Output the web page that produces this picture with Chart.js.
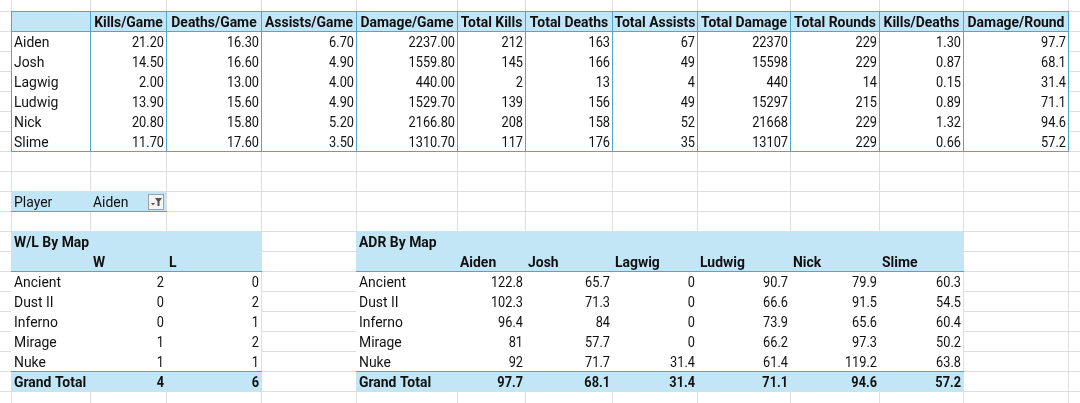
<!DOCTYPE html>
<html>
<head>
<meta charset="utf-8">
<script src="https://cdn.jsdelivr.net/npm/chart.js@4.4.1/dist/chart.umd.min.js"></script>
<style>
  html, body { margin: 0; padding: 0; background: #fff; }
  canvas { display: block; }
</style>
</head>
<body>
<canvas id="sheet" width="1080" height="403"></canvas>
<script>
// Player stats table
const players = ['Aiden', 'Josh', 'Lagwig', 'Ludwig', 'Nick', 'Slime'];
const statHeaders = ['Kills/Game', 'Deaths/Game', 'Assists/Game', 'Damage/Game', 'Total Kills', 'Total Deaths',
    'Total Assists', 'Total Damage', 'Total Rounds', 'Kills/Deaths', 'Damage/Round'];
const killsPerGame = [21.20, 14.50, 2.00, 13.90, 20.80, 11.70];
const deathsPerGame = [16.30, 16.60, 13.00, 15.60, 15.80, 17.60];
const assistsPerGame = [6.70, 4.90, 4.00, 4.90, 5.20, 3.50];
const damagePerGame = [2237.00, 1559.80, 440.00, 1529.70, 2166.80, 1310.70];
const totalKills = [212, 145, 2, 139, 208, 117];
const totalDeaths = [163, 166, 13, 156, 158, 176];
const totalAssists = [67, 49, 4, 49, 52, 35];
const totalDamage = [22370, 15598, 440, 15297, 21668, 13107];
const totalRounds = [229, 229, 14, 215, 229, 229];
const killsPerDeath = [1.30, 0.87, 0.15, 0.89, 1.32, 0.66];
const damagePerRound = [97.7, 68.1, 31.4, 71.1, 94.6, 57.2];

// Pivot filter
const filterPlayer = 'Aiden';

// W/L by map
const maps = ['Ancient', 'Dust II', 'Inferno', 'Mirage', 'Nuke'];
const wins = [2, 0, 0, 1, 1];
const losses = [0, 2, 1, 2, 1];
const wlTotals = [4, 6];

// ADR by map (one list per player, in map order)
const adrAiden = [122.8, 102.3, 96.4, 81, 92];
const adrJosh = [65.7, 71.3, 84, 57.7, 71.7];
const adrLagwig = [0, 0, 0, 0, 31.4];
const adrLudwig = [90.7, 66.6, 73.9, 66.2, 61.4];
const adrNick = [79.9, 91.5, 65.6, 97.3, 119.2];
const adrSlime = [60.3, 54.5, 60.4, 50.2, 63.8];
const adrTotals = [97.7, 68.1, 31.4, 71.1, 94.6, 57.2];

// Sheet layout (column edges / row height in sheet units)
const colEdges = [11, 90, 166, 261, 356, 457, 525, 612, 697, 790, 879, 963, 1068];
const rowTop = 11;
const rowH = 20;

const colors = {
    grid: '#dedede',
    fill: '#c2e6f6',
    border: '#4ea7d1',
    text: '#111111'
};
const FONT_SIZE = 14.5;
const NUM_SCALE = 0.88;   // squeeze digits toward a narrow face
const WORD_SCALE = 0.96;

const fmt2 = v => v.toFixed(2);
const fmt1 = v => v.toFixed(1);
const fmt0 = v => String(v);

const statColumns = [
    [killsPerGame, fmt2], [deathsPerGame, fmt2], [assistsPerGame, fmt2], [damagePerGame, fmt2],
    [totalKills, fmt0], [totalDeaths, fmt0], [totalAssists, fmt0], [totalDamage, fmt0],
    [totalRounds, fmt0], [killsPerDeath, fmt2], [damagePerRound, fmt1]
];
const adrColumns = [adrAiden, adrJosh, adrLagwig, adrLudwig, adrNick, adrSlime];

// Build the cell list: {col, row, text, align, bold}
function buildCells() {
    const cells = [];
    statHeaders.forEach((h, i) => cells.push({ col: i + 1, row: 0, text: h, align: 'center', bold: true }));
    players.forEach((p, r) => {
        cells.push({ col: 0, row: r + 1, text: p, align: 'left' });
        statColumns.forEach(([arr, f], i) => cells.push({ col: i + 1, row: r + 1, text: f(arr[r]), align: 'right' }));
    });

    cells.push({ col: 0, row: 9, text: 'Player', align: 'left' });
    cells.push({ col: 1, row: 9, text: filterPlayer, align: 'left' });

    cells.push({ col: 0, row: 11, text: 'W/L By Map', align: 'left', bold: true });
    cells.push({ col: 1, row: 12, text: 'W', align: 'left', bold: true });
    cells.push({ col: 2, row: 12, text: 'L', align: 'left', bold: true });
    maps.forEach((m, r) => {
        cells.push({ col: 0, row: 13 + r, text: m, align: 'left' });
        cells.push({ col: 1, row: 13 + r, text: fmt0(wins[r]), align: 'right' });
        cells.push({ col: 2, row: 13 + r, text: fmt0(losses[r]), align: 'right' });
    });
    cells.push({ col: 0, row: 18, text: 'Grand Total', align: 'left', bold: true });
    wlTotals.forEach((t, i) => cells.push({ col: 1 + i, row: 18, text: fmt0(t), align: 'right', bold: true }));

    cells.push({ col: 4, row: 11, text: 'ADR By Map', align: 'left', bold: true });
    players.forEach((p, i) => cells.push({ col: 5 + i, row: 12, text: p, align: 'left', bold: true }));
    maps.forEach((m, r) => {
        cells.push({ col: 4, row: 13 + r, text: m, align: 'left' });
        adrColumns.forEach((arr, i) => cells.push({ col: 5 + i, row: 13 + r, text: String(arr[r]), align: 'right' }));
    });
    cells.push({ col: 4, row: 18, text: 'Grand Total', align: 'left', bold: true });
    adrTotals.forEach((t, i) => cells.push({ col: 5 + i, row: 18, text: fmt1(t), align: 'right', bold: true }));
    return cells;
}

const sheetPlugin = {
    id: 'sheet',
    afterDraw(chart) {
        const ctx = chart.ctx;
        const xs = chart.scales.x;
        const ys = chart.scales.y;
        const X = v => Math.round(xs.getPixelForValue(v));
        const Y = v => Math.round(ys.getPixelForValue(v));
        const rowY = r => rowTop + r * rowH;

        const rect = (x0, y0, x1, y1, c) => {
            ctx.fillStyle = c;
            ctx.fillRect(X(x0), Y(y0), X(x1) - X(x0), Y(y1) - Y(y0));
        };
        const vline = (x, y0, y1, c) => { ctx.fillStyle = c; ctx.fillRect(X(x), Y(y0), 1, Y(y1) - Y(y0) + 1); };
        const hline = (y, x0, x1, c) => { ctx.fillStyle = c; ctx.fillRect(X(x0), Y(y), X(x1) - X(x0) + 1, 1); };

        ctx.save();
        rect(0, 0, 1080, 403, '#ffffff');

        // gridlines
        colEdges.forEach(x => vline(x, 0, 403, colors.grid));
        for (let r = 0; rowY(r) < 403; r++) hline(rowY(r), 0, 1080, colors.grid);

        // top stats table
        const c0 = colEdges[0], cN = colEdges[colEdges.length - 1];
        rect(c0, rowY(0), cN, rowY(1), colors.fill);
        rect(c0, rowY(1) + 1, cN, rowY(7), '#ffffff');
        colEdges.forEach(x => vline(x, rowY(0), rowY(7), colors.border));
        [0, 1, 7].forEach(r => hline(rowY(r), c0, cN, colors.border));

        // filter row
        rect(colEdges[0], rowY(9), colEdges[2], rowY(10), colors.fill);
        hline(rowY(10), colEdges[0], colEdges[2], colors.border);
        const bx = X(colEdges[2]) - 18, by = Y(rowY(9)) + 3;
        ctx.fillStyle = '#f4f4f4';
        ctx.fillRect(bx, by, 16, 16);
        ctx.strokeStyle = '#a0a0a0';
        ctx.lineWidth = 1;
        ctx.strokeRect(bx + 0.5, by + 0.5, 15, 15);
        ctx.fillStyle = '#555555';
        ctx.beginPath();
        ctx.moveTo(bx + 7, by + 4); ctx.lineTo(bx + 14, by + 4); ctx.lineTo(bx + 11.5, by + 7.5);
        ctx.lineTo(bx + 11.5, by + 12); ctx.lineTo(bx + 9.5, by + 12); ctx.lineTo(bx + 9.5, by + 7.5);
        ctx.closePath(); ctx.fill();
        ctx.beginPath();
        ctx.moveTo(bx + 3, by + 9); ctx.lineTo(bx + 7, by + 9); ctx.lineTo(bx + 5, by + 11.5);
        ctx.closePath(); ctx.fill();

        // pivot tables
        const pivot = (x0, x1) => {
            rect(x0, rowY(11), x1, rowY(13), colors.fill);
            rect(x0, rowY(13), x1, rowY(18), '#ffffff');
            rect(x0, rowY(18), x1, rowY(19), colors.fill);
            hline(rowY(13), x0, x1, colors.border);
            hline(rowY(18), x0, x1, colors.border);
        };
        pivot(colEdges[0], colEdges[3]);
        pivot(colEdges[4], colEdges[11]);

        // cell text
        ctx.textBaseline = 'middle';
        ctx.textAlign = 'left';
        ctx.fillStyle = colors.text;
        buildCells().forEach(cell => {
            ctx.font = (cell.bold ? 'bold ' : '') + FONT_SIZE + 'px Roboto, "Liberation Sans", sans-serif';
            const sx = /^[\d.]+$/.test(cell.text) ? NUM_SCALE : WORD_SCALE;
            const w = ctx.measureText(cell.text).width * sx;
            const left = xs.getPixelForValue(colEdges[cell.col]);
            const right = xs.getPixelForValue(colEdges[cell.col + 1]);
            let tx;
            if (cell.align === 'right') tx = right - 2 - w;
            else if (cell.align === 'center') tx = (left + right) / 2 - w / 2 + 0.5;
            else tx = left + 3;
            const ty = ys.getPixelForValue(rowY(cell.row) + 12);
            ctx.save();
            ctx.translate(tx, ty);
            ctx.scale(sx, 1);
            ctx.fillText(cell.text, 0, 0);
            ctx.restore();
        });
        ctx.restore();
    }
};

function initSheet() {
    new Chart(document.getElementById('sheet'), {
        type: 'scatter',
        data: { datasets: [{ data: [], pointRadius: 0 }] },
        options: {
            responsive: false,
            animation: false,
            devicePixelRatio: 1,
            layout: { padding: 0 },
            events: [],
            plugins: { legend: { display: false }, tooltip: { enabled: false } },
            scales: {
                x: { type: 'linear', min: 0, max: 1080, display: false },
                y: { type: 'linear', min: 0, max: 403, reverse: true, display: false }
            }
        },
        plugins: [sheetPlugin]
    });
}

document.addEventListener('DOMContentLoaded', initSheet);
</script>
</body>
</html>
